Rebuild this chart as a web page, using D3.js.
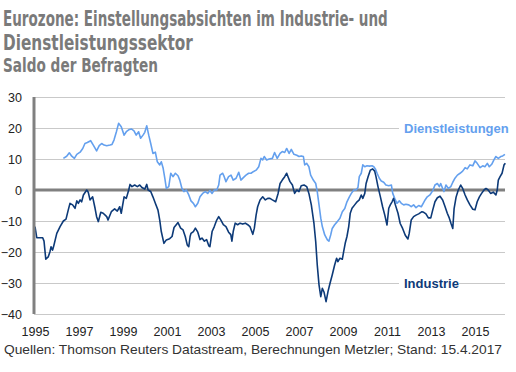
<!DOCTYPE html>
<html><head><meta charset="utf-8">
<script src="https://cdn.jsdelivr.net/npm/d3@7"></script>
<style>html,body{margin:0;padding:0;background:#fff;}svg{display:block;}</style>
</head><body><div id="chart"></div>
<script>
// ---- data (decimal years, as placed on the chart's axis) ----
const titleLines = ["Eurozone: Einstellungsabsichten im Industrie- und", "Dienstleistungssektor"];
const subtitle = "Saldo der Befragten";
const footnote = "Quellen: Thomson Reuters Datastream, Berechnungen Metzler; Stand: 15.4.2017";
const yTicks = [30, 20, 10, 0, -10, -20, -30, -40];
const xTickYears = [1995, 1997, 1999, 2001, 2003, 2005, 2007, 2009, 2011, 2013, 2015];
const seriesNames = ["Dienstleistungen", "Industrie"];

const indTime = [1995.00,1995.08,1995.35,1995.41,1995.49,1995.60,1995.68,1995.73,1995.80,1995.86,1995.99,1996.14,1996.29,1996.41,1996.51,1996.59,1996.71,1996.82,1996.90,1996.97,1997.05,1997.12,1997.20,1997.35,1997.42,1997.50,1997.62,1997.73,1997.80,1997.88,1997.99,1998.10,1998.26,1998.32,1998.47,1998.62,1998.74,1998.85,1998.92,1999.05,1999.15,1999.26,1999.32,1999.41,1999.53,1999.65,1999.76,1999.86,1999.99,2000.08,2000.14,2000.26,2000.36,2000.47,2000.59,2000.67,2000.74,2000.86,2000.97,2001.12,2001.23,2001.32,2001.42,2001.50,2001.62,2001.73,2001.83,2001.92,2001.99,2002.05,2002.09,2002.20,2002.29,2002.40,2002.50,2002.59,2002.70,2002.80,2002.90,2002.95,2003.05,2003.15,2003.26,2003.35,2003.45,2003.56,2003.68,2003.80,2003.90,2003.95,2004.01,2004.10,2004.21,2004.32,2004.44,2004.56,2004.67,2004.77,2004.90,2004.97,2005.05,2005.12,2005.23,2005.35,2005.47,2005.58,2005.68,2005.79,2005.94,2006.05,2006.14,2006.24,2006.35,2006.44,2006.50,2006.59,2006.70,2006.80,2006.90,2007.00,2007.10,2007.23,2007.35,2007.45,2007.56,2007.68,2007.76,2007.83,2007.91,2007.99,2008.06,2008.14,2008.23,2008.32,2008.41,2008.51,2008.62,2008.71,2008.77,2008.86,2008.97,2009.03,2009.10,2009.18,2009.26,2009.33,2009.41,2009.53,2009.64,2009.74,2009.83,2009.90,2009.99,2010.05,2010.14,2010.24,2010.35,2010.44,2010.50,2010.59,2010.70,2010.80,2010.90,2011.00,2011.08,2011.15,2011.23,2011.30,2011.38,2011.50,2011.60,2011.71,2011.83,2011.95,2012.01,2012.10,2012.21,2012.32,2012.44,2012.59,2012.67,2012.77,2012.88,2012.99,2013.08,2013.18,2013.29,2013.41,2013.53,2013.64,2013.74,2013.83,2013.91,2013.99,2014.05,2014.14,2014.24,2014.35,2014.44,2014.55,2014.65,2014.77,2014.90,2015.00,2015.10,2015.20,2015.30,2015.41,2015.50,2015.60,2015.71,2015.83,2015.95,2016.01,2016.06,2016.14,2016.23,2016.32,2016.38];
const indValues = [-11.8,-15.4,-15.4,-16.5,-22.3,-21.6,-19.9,-18.3,-19.4,-17.8,-14.0,-11.8,-10.0,-9.4,-6.5,-4.3,-4.8,-5.9,-3.5,-4.3,-3.2,-3.8,-1.6,0.0,-0.7,-3.2,-2.2,-5.9,-8.6,-10.2,-7.2,-7.5,-8.6,-9.7,-7.0,-6.1,-6.8,-5.4,-7.5,-2.2,-2.7,0.0,1.8,1.1,1.6,1.1,1.6,0.8,0.3,1.8,0.0,-0.5,-2.2,-4.3,-6.5,-9.7,-13.4,-17.2,-16.1,-15.7,-15.0,-12.1,-11.2,-10.5,-12.3,-12.9,-15.0,-17.7,-18.3,-15.0,-14.0,-13.4,-12.3,-13.6,-16.0,-15.5,-16.5,-16.0,-18.0,-18.3,-13.4,-11.8,-9.7,-8.6,-9.7,-11.2,-11.8,-13.6,-14.4,-16.5,-13.4,-10.7,-11.2,-10.7,-11.0,-10.7,-11.2,-11.8,-14.3,-12.3,-8.1,-5.4,-3.2,-2.2,-3.2,-2.7,-2.7,-3.2,-3.8,-1.1,2.1,3.2,4.3,5.4,4.3,2.7,1.6,-1.1,0.0,-0.5,1.4,1.6,1.1,-1.1,-4.8,-10.8,-16.7,-24.2,-30.6,-34.4,-31.7,-33.0,-36.0,-32.7,-30.1,-27.4,-24.2,-22.0,-23.1,-22.0,-22.3,-19.9,-17.2,-15.0,-11.8,-7.5,-5.9,-4.8,-3.8,-3.2,-1.6,-2.7,-1.1,2.1,4.3,6.4,6.8,6.1,4.3,1.1,-2.2,-5.4,-8.1,-11.3,-5.9,-4.8,-3.8,-2.7,-4.8,-7.5,-10.8,-12.4,-14.6,-15.8,-14.0,-9.7,-8.6,-8.1,-7.7,-7.0,-7.2,-7.7,-9.0,-9.0,-6.4,-3.8,-2.5,-2.0,-3.2,-5.4,-7.5,-9.0,-10.8,-12.4,-6.0,-2.3,0.0,1.6,0.5,-1.6,-3.2,-4.8,-6.2,-6.4,-3.8,-2.2,-1.1,0.0,0.5,0.0,-1.1,-0.7,-1.6,0.0,3.2,4.3,5.4,8.1,8.6];

const dlTime = [1996.29,1996.44,1996.56,1996.67,1996.79,1996.90,1997.05,1997.17,1997.27,1997.38,1997.53,1997.65,1997.80,1997.92,1998.03,1998.14,1998.26,1998.41,1998.50,1998.59,1998.70,1998.80,1998.92,1999.05,1999.15,1999.26,1999.38,1999.50,1999.60,1999.71,1999.80,1999.91,1999.99,2000.08,2000.17,2000.26,2000.36,2000.47,2000.56,2000.67,2000.74,2000.82,2000.90,2000.97,2001.08,2001.17,2001.27,2001.38,2001.50,2001.58,2001.68,2001.77,2001.88,2001.99,2002.09,2002.20,2002.29,2002.40,2002.50,2002.62,2002.74,2002.85,2002.95,2003.05,2003.15,2003.26,2003.35,2003.41,2003.53,2003.60,2003.68,2003.80,2003.91,2004.01,2004.14,2004.26,2004.36,2004.47,2004.59,2004.71,2004.82,2004.92,2005.05,2005.17,2005.27,2005.35,2005.42,2005.53,2005.64,2005.79,2005.89,2006.01,2006.14,2006.24,2006.35,2006.44,2006.55,2006.65,2006.77,2006.90,2007.00,2007.10,2007.20,2007.26,2007.35,2007.45,2007.53,2007.65,2007.76,2007.83,2007.91,2007.99,2008.06,2008.17,2008.29,2008.36,2008.44,2008.51,2008.62,2008.74,2008.86,2008.97,2009.08,2009.18,2009.29,2009.38,2009.49,2009.59,2009.68,2009.74,2009.83,2009.90,2009.99,2010.09,2010.20,2010.32,2010.40,2010.47,2010.55,2010.65,2010.74,2010.85,2010.95,2011.08,2011.20,2011.26,2011.35,2011.45,2011.56,2011.65,2011.76,2011.86,2011.99,2012.10,2012.21,2012.32,2012.44,2012.56,2012.67,2012.73,2012.83,2012.95,2013.08,2013.18,2013.29,2013.38,2013.44,2013.53,2013.59,2013.68,2013.79,2013.90,2013.99,2014.09,2014.20,2014.32,2014.44,2014.55,2014.65,2014.77,2014.90,2015.00,2015.10,2015.23,2015.35,2015.45,2015.56,2015.65,2015.76,2015.86,2015.95,2016.06,2016.17,2016.26,2016.36];
const dlValues = [10.2,10.9,12.0,10.9,10.2,11.5,12.2,13.4,15.0,15.3,15.9,14.5,12.6,14.3,15.0,14.5,14.3,14.5,14.7,16.1,18.8,21.5,20.4,17.7,18.8,19.4,19.7,19.1,17.7,18.8,16.7,17.7,18.6,20.7,17.7,15.0,11.8,12.2,9.1,8.1,9.1,7.2,3.8,0.5,1.1,5.4,4.3,5.4,4.6,3.2,0.5,-0.5,0.0,-1.6,-3.5,-4.3,-5.4,-4.3,-2.2,-1.1,-0.5,-1.1,-0.2,-1.1,0.0,0.0,1.6,4.8,5.4,4.3,2.7,4.3,4.8,3.2,3.8,5.7,3.2,4.0,4.8,5.4,5.4,5.9,6.4,7.5,10.2,9.7,10.8,9.7,10.0,10.2,12.1,10.2,11.8,12.4,12.1,13.4,11.8,13.1,11.5,11.2,10.8,11.0,10.8,8.1,8.6,7.5,4.8,3.2,2.1,-0.5,-4.8,-9.1,-11.8,-14.5,-16.1,-16.5,-14.5,-12.4,-11.2,-10.2,-9.1,-7.0,-6.0,-3.8,-2.2,-1.1,0.0,0.0,0.8,4.3,5.4,8.1,7.5,7.8,7.7,7.8,7.5,6.8,5.4,3.8,2.9,2.5,1.6,1.4,1.6,-1.1,-2.7,-4.3,-3.5,-4.3,-4.8,-4.6,-4.8,-5.4,-4.8,-5.7,-5.0,-5.4,-4.0,-3.2,-2.2,-1.6,-0.2,1.6,2.1,1.1,2.1,0.5,-0.5,1.6,0.5,1.1,2.5,3.8,4.8,5.4,6.1,7.2,6.8,8.1,7.8,9.4,8.6,7.2,7.8,7.5,8.6,7.5,8.3,9.7,10.8,10.2,10.8,11.0,11.5];

// ---- drawing ----
const W = 516, H = 372;
const svg = d3.select("#chart").append("svg").attr("width", W).attr("height", H);
const plotLeft = 34, plotRight = 505, plotTop = 97, plotBottom = 314;

const x = d3.scaleLinear().domain([1995, 2016.4]).range([35, 35 + 21.4 * 22]);
const y = d3.scaleLinear().domain([-40, 30]).range([plotBottom, plotTop]);

const titleFont = "'Liberation Sans Narrow','Arial Narrow','DejaVu Sans Condensed',sans-serif";
const bodyFont = "'Liberation Sans',Arial,Helvetica,sans-serif";

// Title: condensed by a horizontal scale fitted to the reference width
function condensedText(txt, tx, ty, size, targetW) {
  const g = svg.append("g");
  const t = g.append("text").attr("x", 0).attr("y", 0).text(txt)
    .attr("font-family", titleFont).attr("font-weight", "bold").attr("font-size", size)
    .attr("fill", "#7a7a7a");
  const w = t.node().getComputedTextLength();
  const s = w > 0 ? Math.min(1, targetW / w) : 1;
  g.attr("transform", `translate(${tx},${ty}) scale(${s},1)`);
}
condensedText(titleLines[0], 3, 26, 22, 385);
condensedText(titleLines[1], 3, 49.5, 22, 190);
condensedText(subtitle, 3, 72, 19.5, 155);

// Gridlines
const grid = svg.append("g").attr("transform", `translate(${plotLeft},0)`)
  .call(d3.axisLeft(y).tickValues(yTicks.filter(d => d !== 0)).tickSize(-(plotRight - plotLeft)).tickFormat(""));
grid.select(".domain").remove();
grid.selectAll(".tick line").attr("stroke", "#c9c9c9").attr("stroke-width", 1);

// Y axis labels
const yAxis = svg.append("g").attr("transform", `translate(${plotLeft},0)`)
  .call(d3.axisLeft(y).tickValues(yTicks).tickSize(0).tickPadding(12).tickFormat(d3.format("d")));
yAxis.select(".domain").remove();
yAxis.selectAll("text").attr("font-family", bodyFont).attr("font-size", 12.5).attr("fill", "#222");

// X axis labels
const xAxis = svg.append("g").attr("transform", `translate(0,${plotBottom})`)
  .call(d3.axisBottom(x).tickValues(xTickYears).tickSize(0).tickPadding(13).tickFormat(d3.format("d")));
xAxis.select(".domain").remove();
xAxis.selectAll("text").attr("font-family", bodyFont).attr("font-size", 12.5).attr("fill", "#222");

// zero line
svg.append("line").attr("x1", plotLeft).attr("x2", plotRight).attr("y1", y(0)).attr("y2", y(0))
  .attr("stroke", "#808080").attr("stroke-width", 3);

// Series label backgrounds + labels
function seriesLabel(txt, lx, ly, color, bgw) {
  svg.append("rect").attr("x", lx - 5).attr("y", ly - 12).attr("width", bgw).attr("height", 16).attr("fill", "#fff");
  svg.append("text").attr("x", lx).attr("y", ly).text(txt)
    .attr("font-family", bodyFont).attr("font-weight", "bold").attr("font-size", 13).attr("fill", color);
}

// Lines
const line = d3.line().x(d => x(d[0])).y(d => y(d[1]));
const dlData = dlTime.map((t, i) => [t, dlValues[i]]);
const indData = indTime.map((t, i) => [t, indValues[i]]);
svg.append("path").datum(dlData).attr("d", line).attr("fill", "none")
  .attr("stroke", "#64a0ee").attr("stroke-width", 1.6).attr("stroke-linejoin", "round");
svg.append("path").datum(indData).attr("d", line).attr("fill", "none")
  .attr("stroke", "#0d3a78").attr("stroke-width", 1.6).attr("stroke-linejoin", "round");

seriesLabel(seriesNames[0], 404, 133, "#64a0ee", 106);
seriesLabel(seriesNames[1], 404, 288, "#0d3a78", 60);

// Y axis thick line
svg.append("line").attr("x1", plotLeft).attr("x2", plotLeft).attr("y1", plotTop).attr("y2", plotBottom)
  .attr("stroke", "#808080").attr("stroke-width", 3);

// footnote
svg.append("text").attr("x", 4).attr("y", 354).text(footnote)
  .attr("font-family", bodyFont).attr("font-size", 13).attr("fill", "#333")
  .attr("textLength", 498).attr("lengthAdjust", "spacingAndGlyphs");
</script></body></html>
